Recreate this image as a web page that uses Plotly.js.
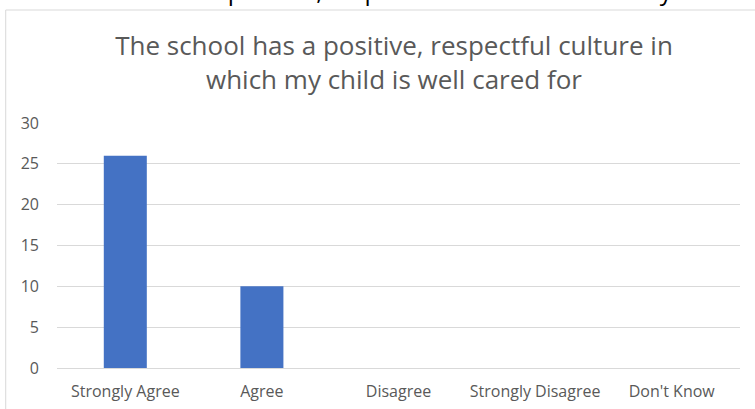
<!DOCTYPE html>
<html>
<head>
<meta charset="utf-8">
<script src="https://cdn.plot.ly/plotly-3.0.1.min.js"></script>
<style>
  html, body { margin: 0; padding: 0; background: #ffffff; }
  #chart { width: 755px; height: 409px; }
</style>
</head>
<body>
<div id="chart"></div>
<script>
const categories = ["Strongly Agree", "Agree", "Disagree", "Strongly Disagree", "Don't Know"];
const responses = [26, 10, 0, 0, 0];
const yTicks = [0, 5, 10, 15, 20, 25, 30];
const chartTitle = "The school has a positive, respectful culture in<br>which my child is well cared for";
const pageHeading = "The school has a positive, respectful culture in which my child is well cared for";

const FONT = "Open Sans, sans-serif";

const trace = {
  type: "bar",
  x: categories,
  y: responses,
  marker: { color: "#4472C4" },
  hoverinfo: "x+y"
};

const layout = {
  width: 755,
  height: 409,
  margin: { l: 57, r: 15, t: 123, b: 41 },
  paper_bgcolor: "#ffffff",
  plot_bgcolor: "#ffffff",
  showlegend: false,
  bargap: 0.685,
  font: { family: FONT, color: "#595959", size: 16 },
  title: {
    text: chartTitle,
    font: { family: FONT, size: 26, color: "#595959" },
    x: 0.4934, xref: "paper", xanchor: "center",
    y: 0.865, yref: "container", yanchor: "middle"
  },
  xaxis: {
    type: "category",
    showgrid: false,
    showline: true,
    linecolor: "#D9D9D9",
    linewidth: 1,
    ticks: "",
    ticklabelstandoff: 9,
    tickfont: { family: FONT, size: 16, color: "#595959" },
    fixedrange: true
  },
  yaxis: {
    range: [0, 30],
    autorange: false,
    tickvals: yTicks,
    ticktext: yTicks.map(String),
    showgrid: true,
    gridcolor: "#D9D9D9",
    gridwidth: 1,
    zeroline: false,
    showline: false,
    ticks: "",
    ticklabelstandoff: 17,
    tickfont: { family: FONT, size: 16, color: "#595959" },
    fixedrange: true
  },
  shapes: [
    {
      type: "rect", xref: "paper", yref: "paper",
      x0: -0.0751, x1: 1.2, y0: -0.3, y1: 1.4612,
      line: { color: "#D9D9D9", width: 1 },
      fillcolor: "rgba(0,0,0,0)", layer: "below"
    }
  ],
  annotations: [
    {
      text: pageHeading,
      xref: "paper", yref: "paper",
      x: -0.0399, y: 1.4635,
      xanchor: "left", yanchor: "bottom",
      showarrow: false,
      font: { family: FONT, size: 24.5, color: "#000000" }
    }
  ]
};

Plotly.newPlot("chart", [trace], layout, { displayModeBar: false, staticPlot: true });
</script>
</body>
</html>
